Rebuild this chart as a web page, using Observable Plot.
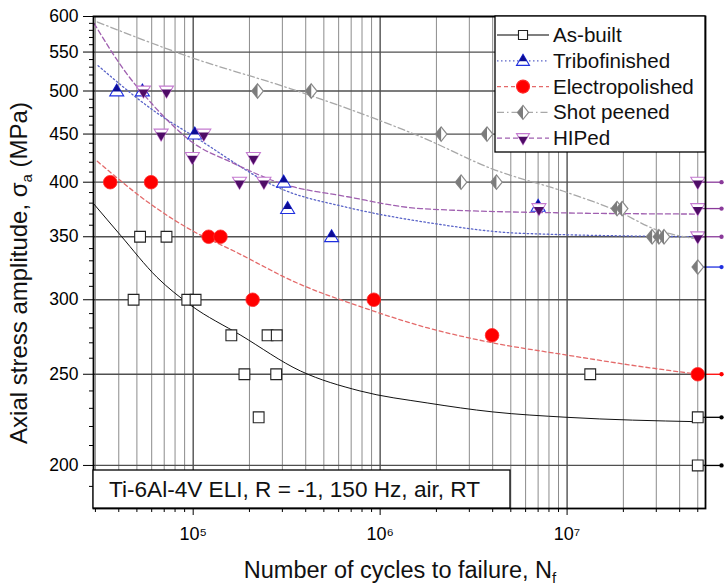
<!DOCTYPE html>
<html><head><meta charset="utf-8">
<script src="https://cdn.jsdelivr.net/npm/d3@7"></script>
<script src="https://cdn.jsdelivr.net/npm/@observablehq/plot@0.6"></script>
<style>
body{margin:0;background:#fff;}
#chart svg{display:block;}
</style>
</head><body><div id="chart"></div>
<script>
// ---- data (cycles to failure N, stress amplitude MPa) ----
const seriesNames = ["As-built", "Tribofinished", "Electropolished", "Shot peened", "HIPed"];

const asBuilt = [[4.8e4,300],[5.2e4,350],[7.2e4,350],[9.3e4,300],[1.03e5,300],[1.6e5,275],[1.88e5,250],[2.24e5,225],[2.5e5,275],[2.8e5,275],[2.78e5,250],[1.33e7,250],[5e7,225],[5e7,200]];
const tribofinished = [[3.9e4,500],[5.35e4,500],[1.02e5,450],[3.05e5,400],[3.2e5,375],[5.5e5,350],[7.0e6,377]];
const electropolished = [[3.6e4,400],[5.95e4,400],[1.21e5,350],[1.4e5,350],[2.08e5,300],[9.25e5,300],[3.97e6,275],[5e7,250]];
const shotPeened = [[2.21e5,500],[4.28e5,500],[2.12e6,450],[3.73e6,450],[2.71e6,400],[4.19e6,400],[1.85e7,375],[1.97e7,375],[2.85e7,350],[3.1e7,350],[3.3e7,350],[5e7,325]];
const hiped = [[5.42e4,500],[7.2e4,500],[6.74e4,450],[1.14e5,450],[9.9e4,425],[2.1e5,425],[1.77e5,400],[2.39e5,400],[7.07e6,375],[5e7,400],[5e7,375],[5e7,350]];

// fitted curves
const asBuiltFit = [[2.95e4,379],[4.1e4,351],[6.4e4,317],[9.7e4,296],[1.8e5,275],[3.75e5,252],[7.8e5,240],[1.8e6,233],[4e6,228],[1e7,225],[5e7,222.6]];
const tribofinishedFit = [[3.1e4,532],[6.58e4,472],[1e5,448],[3e5,393],[6.7e5,376],[1.86e6,362],[5.6e6,353],[5e7,350]];
const electropolishedFit = [[3.07e4,421],[6.4e4,375],[9.7e4,356],[1.65e5,338],[3.67e5,312],[7.85e5,295],[1.8e6,280],[4e6,270],[1e7,262],[2.1e7,256],[5e7,250]];
const shotPeenedFit = [[3.07e4,592],[9.7e4,543],[3.3e5,503],[1e6,465],[1.65e6,447],[4e6,413],[1e7,390],[1.9e7,372],[2.9e7,357],[5e7,348]];
const hipedFit = [[2.95e4,590],[4.37e4,523],[6.05e4,484],[7.74e4,460],[9.9e4,441],[1.6e5,420],[2.93e5,399],[6.7e5,386],[1.65e6,375],[1e7,371],[5e7,370]];

// run-outs (arrows at the right edge)
const runoutS = [400, 375, 350, 325, 250, 225, 200];
const runoutSeries = ["HIPed", "HIPed", "HIPed", "Tribofinished", "Electropolished", "As-built", "As-built"];
const runoutN = 5e7;

// ticks
const xMajor = [1e5, 1e6, 1e7];
const xMinor = [3e4,4e4,5e4,6e4,7e4,8e4,9e4,2e5,3e5,4e5,5e5,6e5,7e5,8e5,9e5,2e6,3e6,4e6,5e6,6e6,7e6,8e6,9e6,2e7,3e7,4e7,5e7];
const yMajor = [200, 250, 300, 350, 400, 450, 500, 550, 600];
const yMinor = [190,210,220,230,240,260,270,280,290,310,320,330,340,360,370,380,390,410,420,430,440,460,470,480,490,510,520,530,540,560,570,580,590];

const headerText = "Ti-6Al-4V ELI, R = -1, 150 Hz, air, RT";

// ---- styles ----
const col = {
  "As-built": "#000000",
  "Tribofinished": "#1f2fe0",
  "Electropolished": "#ff0000",
  "Shot peened": "#8a8a8a",
  "HIPed": "#8a3a9a"
};
const fitStyle = {
  "As-built": {stroke: "#111", dash: null, w: 1},
  "Tribofinished": {stroke: "#5a64c8", dash: "1.5 2.5", w: 1.3},
  "Electropolished": {stroke: "#e46a6a", dash: "4 3", w: 1.3},
  "Shot peened": {stroke: "#a8a8a8", dash: "7 3 1.5 3", w: 1.3},
  "HIPed": {stroke: "#a060b0", dash: "5 3", w: 1.3}
};

// custom symbols
const R = s => Math.sqrt(s / Math.PI);
const triUp = {draw(c, s){const r=R(s); c.moveTo(0,-r); c.lineTo(r,0.7*r); c.lineTo(-r,0.7*r); c.closePath();}};
const triUpTop = {draw(c, s){const r=R(s), k=0.62; c.moveTo(0,-r); c.lineTo(r*k,-r+1.7*r*k); c.lineTo(-r*k,-r+1.7*r*k); c.closePath();}};
const triDown = {draw(c, s){const r=R(s); c.moveTo(0,r); c.lineTo(r,-0.7*r); c.lineTo(-r,-0.7*r); c.closePath();}};
const triDownBot = {draw(c, s){const r=R(s), k=0.72; c.moveTo(0,r); c.lineTo(r*k,r-1.7*r*k); c.lineTo(-r*k,r-1.7*r*k); c.closePath();}};
const diamond = {draw(c, s){const r=R(s); c.moveTo(0,-r); c.lineTo(0.8*r,0); c.lineTo(0,r); c.lineTo(-0.8*r,0); c.closePath();}};
const diamondLeft = {draw(c, s){const r=R(s); c.moveTo(0,-r); c.lineTo(0,r); c.lineTo(-0.8*r,0); c.closePath();}};
const squareSym = {draw(c, s){const r=R(s)*0.87; c.rect(-r,-r,2*r,2*r);}};

const X = d => d[0], Y = d => d[1];
const fitLine = (data, name) => Plot.line(data, {x: X, y: Y, curve: "monotone-x", stroke: fitStyle[name].stroke, strokeWidth: fitStyle[name].w, strokeDasharray: fitStyle[name].dash});

const runouts = runoutS.map((s, i) => ({s, series: runoutSeries[i]}));
const sup = {5: "\u2075", 6: "\u2076", 7: "\u2077"};

const FONT = "'Liberation Sans', Arial, Helvetica, sans-serif";

const svg = Plot.plot({
  width: 724, height: 588,
  marginTop: 16, marginBottom: 80, marginLeft: 93, marginRight: 19,
  style: {fontFamily: FONT, fontSize: "17px", color: "#000", background: "#fff", overflow: "visible"},
  x: {type: "log", domain: [2.93e4, 5.5e7]},
  y: {type: "log", domain: [180, 600]},
  marks: [
    Plot.gridX(xMinor, {stroke: "#8c8c8c", strokeOpacity: 1, strokeWidth: 1}),
    Plot.gridX(xMajor, {stroke: "#333", strokeOpacity: 1, strokeWidth: 1.2}),
    Plot.gridY(yMajor, {stroke: "#505050", strokeOpacity: 1, strokeWidth: 1.3}),
    Plot.axisX(xMinor, {tickSize: 4, tickFormat: () => "", label: null}),
    Plot.axisX(xMajor, {tickSize: 7, tickPadding: 12, tickFormat: d => "10" + sup[Math.round(Math.log10(d))], label: null, fontSize: 18}),
    Plot.axisY(yMinor, {tickSize: 4, tickFormat: () => "", label: null}),
    Plot.axisY(yMajor, {tickSize: 10, tickPadding: 5, tickFormat: d => String(d), label: null, fontSize: 17.5}),
    fitLine(asBuiltFit, "As-built"),
    fitLine(tribofinishedFit, "Tribofinished"),
    fitLine(electropolishedFit, "Electropolished"),
    fitLine(shotPeenedFit, "Shot peened"),
    fitLine(hipedFit, "HIPed"),
    Plot.link(runouts, {x1: () => runoutN, x2: () => 6.7e7, y1: "s", y2: "s", stroke: d => col[d.series], strokeWidth: 1.3, markerEnd: "dot"}),
    // As-built
    Plot.dot(asBuilt, {x: X, y: Y, symbol: squareSym, r: 6.2, fill: "white", stroke: "#222", strokeWidth: 1.1}),
    // Tribofinished
    Plot.dot(tribofinished, {x: X, y: Y, symbol: triUp, r: 7, fill: "white", stroke: col["Tribofinished"], strokeWidth: 1.1}),
    Plot.dot(tribofinished, {x: X, y: Y, symbol: triUpTop, r: 7, fill: "#0c0c96", stroke: "none"}),
    // Electropolished
    Plot.dot(electropolished, {x: X, y: Y, r: 6.8, fill: "#ff0000", stroke: "#ff2a2a", strokeWidth: 0.8}),
    // Shot peened
    Plot.dot(shotPeened, {x: X, y: Y, symbol: diamond, r: 7.2, fill: "white", stroke: "#8a8a8a", strokeWidth: 1.2}),
    Plot.dot(shotPeened, {x: X, y: Y, symbol: diamondLeft, r: 7.2, fill: "#7c7c7c", stroke: "none"}),
    // HIPed
    Plot.dot(hiped, {x: X, y: Y, symbol: triDown, r: 7, fill: "white", stroke: "#c47ad0", strokeWidth: 1.1}),
    Plot.dot(hiped, {x: X, y: Y, symbol: triDownBot, r: 7, fill: "#4e0c66", stroke: "none"}),
    Plot.frame({stroke: "#000", strokeWidth: 1.8})
  ]
});

const root = d3.select(svg);

// header box at lower-left
root.append("rect").attr("x", 93).attr("y", 470).attr("width", 417).attr("height", 38)
  .attr("fill", "white").attr("stroke", "#000").attr("stroke-width", 1.3);
root.append("text").attr("x", 109).attr("y", 497).attr("text-anchor", "start").attr("font-family", FONT).attr("font-size", 22.6)
  .attr("fill", "#111").text(headerText);

// legend box
const lg = root.append("g");
lg.append("rect").attr("x", 495).attr("y", 16).attr("width", 210).attr("height", 136)
  .attr("fill", "white").attr("stroke", "#000").attr("stroke-width", 1.3);
const legendMarkers = {
  "As-built": [[squareSym, "white", "#222", 5.2]],
  "Tribofinished": [[triUp, "white", col["Tribofinished"], 6.5], [triUpTop, "#0c0c96", "none", 6.5]],
  "Electropolished": [[d3.symbolCircle, "#ff0000", "#ff2a2a", 6.5]],
  "Shot peened": [[diamond, "white", "#8a8a8a", 7], [diamondLeft, "#7c7c7c", "none", 7]],
  "HIPed": [[triDown, "white", "#c47ad0", 6.5], [triDownBot, "#4e0c66", "none", 6.5]]
};
seriesNames.forEach((name, i) => {
  const cy = 35 + i * 25.8;
  const fs = fitStyle[name];
  lg.append("line").attr("x1", 497).attr("x2", 549).attr("y1", cy).attr("y2", cy)
    .attr("stroke", name === "As-built" ? "#555" : fs.stroke).attr("stroke-width", 1.3)
    .attr("stroke-dasharray", fs.dash);
  legendMarkers[name].forEach(([sym, fill, stroke, r]) => {
    lg.append("path").attr("transform", `translate(523,${cy})`)
      .attr("d", d3.symbol(sym, Math.PI * r * r)())
      .attr("fill", fill).attr("stroke", stroke).attr("stroke-width", 1.1);
  });
  lg.append("text").attr("x", 553).attr("y", cy + 7).attr("text-anchor", "start").attr("font-family", FONT).attr("font-size", 20.6)
    .attr("fill", "#111").text(name);
});

// x-axis title
const xt = root.append("text").attr("x", 400).attr("y", 578).attr("text-anchor", "middle")
  .attr("font-family", FONT).attr("font-size", 23.5).attr("fill", "#111");
xt.append("tspan").text("Number of cycles to failure, N");
xt.append("tspan").attr("font-size", 15).attr("dy", 5).text("f");

// y-axis title
const yt = root.append("text").attr("transform", "translate(27,273) rotate(-90)").attr("text-anchor", "middle")
  .attr("font-family", FONT).attr("font-size", 24).attr("fill", "#111");
yt.append("tspan").text("Axial stress amplitude, \u03C3");
yt.append("tspan").attr("font-size", 15).attr("dy", 5).text("a");
yt.append("tspan").attr("dy", -5).text(" (MPa)");

document.getElementById("chart").appendChild(svg);
</script>
</body></html>
